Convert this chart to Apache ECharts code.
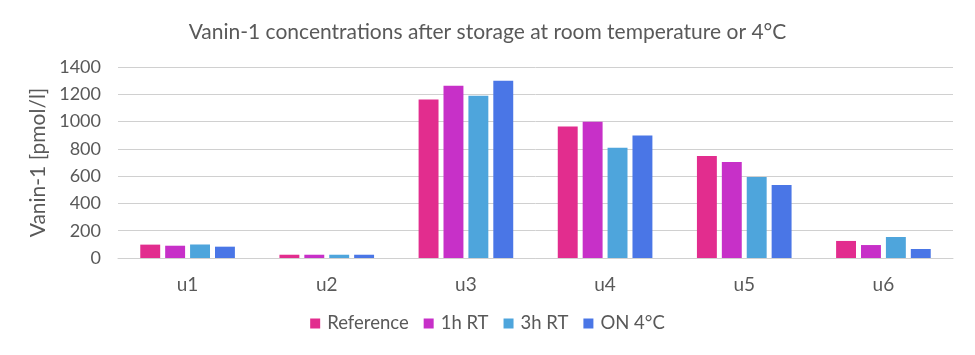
<!DOCTYPE html>
<html><head><meta charset="utf-8">
<script src="https://cdn.jsdelivr.net/npm/echarts@6/dist/echarts.min.js"></script>
<style>html,body{margin:0;padding:0;background:#fff}#c{width:975px;height:355px}</style>
</head><body><div id="c"></div>
<script>
const categories = ['u1','u2','u3','u4','u5','u6'];
const seriesNames = ['Reference','1h RT','3h RT','ON 4°C'];
const reference = [98, 24, 1161, 963, 748, 125];
const rt1h = [90, 24, 1263, 999, 704, 95];
const rt3h = [99, 24, 1190, 809, 594, 154];
const on4c = [83, 24, 1300, 897, 535, 66];
const colors = ['#E22D8E','#C730C8','#4EA5DC','#4A76E6'];
const yTicks = [0,200,400,600,800,1000,1200,1400];
const values = [reference, rt1h, rt3h, on4c];
const font = 'Lato';
const chart = echarts.init(document.getElementById('c'));
chart.setOption({
  animation:false,
  textStyle:{fontFamily:font},
  title:{text:'Vanin-1 concentrations after storage at room temperature or 4°C',left:'center',top:17,
    textStyle:{fontFamily:font,fontSize:21,fontWeight:'normal',color:'#595959'}},
  grid:{left:118,right:22,top:67,bottom:97},
  legend:{bottom:17,left:'center',itemWidth:10,itemHeight:10,itemGap:15,icon:'rect',
    textStyle:{fontFamily:font,fontSize:18.5,color:'#595959',padding:[0,0,0,2]},data:seriesNames},
  xAxis:{type:'category',data:categories,
    axisLine:{lineStyle:{color:'#d0d0d0'}},axisTick:{show:false},
    axisLabel:{fontFamily:font,fontSize:19,color:'#595959',margin:17}},
  yAxis:{type:'value',min:yTicks[0],max:yTicks[yTicks.length-1],interval:200,
    name:'Vanin-1 [pmol/l]',nameLocation:'middle',nameGap:64,
    nameTextStyle:{fontFamily:font,fontSize:21,color:'#595959'},
    axisLabel:{fontFamily:font,fontSize:18,color:'#595959',margin:17,formatter:v=>String(v)},
    splitLine:{lineStyle:{color:'#d0d0d0'}}},
  series: seriesNames.map((n,i)=>({name:n,type:'bar',data:values[i],
    itemStyle:{color:colors[i]},barGap:'25%',barCategoryGap:'32%'}))
});
</script></body></html>
